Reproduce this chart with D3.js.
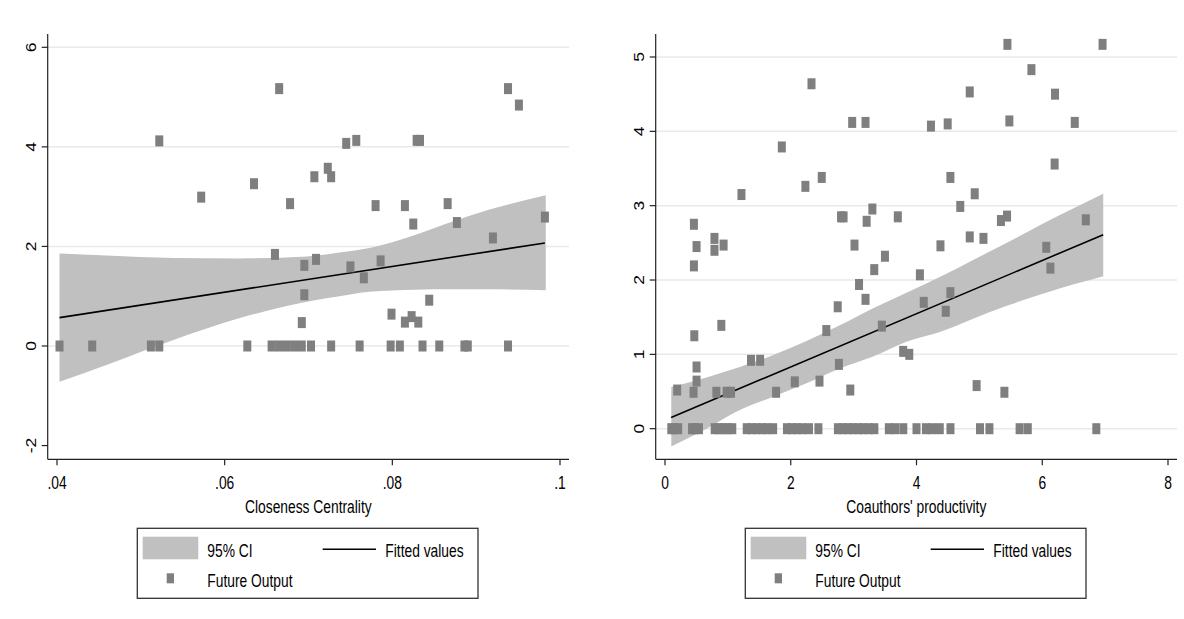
<!DOCTYPE html>
<html>
<head>
<meta charset="utf-8">
<script src="https://cdn.jsdelivr.net/npm/d3@7"></script>
<style>
  html, body { margin: 0; padding: 0; background: #fff; }
  svg { display: block; }
  text { font-family: "Liberation Sans", Arial, Helvetica, sans-serif; fill: #000; }
</style>
</head>
<body>
<svg id="chart" width="1184" height="619"></svg>
<script>
// ---------------- DATA ----------------
// Left panel: Closeness Centrality vs Future Output
const leftX = [0.0522,0.0572,0.0635,0.0665,0.0678,0.0707,0.0723,0.0727,0.0745,0.0757,0.0780,0.0815,0.0825,0.0829,0.0833,0.0866,0.0877,0.0920,0.0938,0.0951,0.0982,
               0.0660,0.0695,0.0709,0.0750,0.0766,0.0786,0.0695,0.0844,0.0799,0.0692,0.0815,0.0823,0.0831,
               0.0403,0.0442,0.0512,0.0522,0.0627,0.0656,0.0665,0.0674,0.0683,0.0692,0.0703,0.0727,0.0761,0.0798,0.0809,0.0836,0.0856,0.0886,0.0890,0.0938];
const leftY = [4.12,2.99,3.26,5.17,2.86,3.40,3.57,3.40,4.07,4.13,2.82,2.82,2.45,4.13,4.13,2.86,2.48,2.17,5.17,4.84,2.59,
               1.84,1.62,1.74,1.59,1.37,1.71,1.03,0.92,0.64,0.47,0.48,0.59,0.48,
               0,0,0,0,0,0,0,0,0,0,0,0,0,0,0,0,0,0,0,0];
const leftFitX = [0.0403, 0.0982];
const leftFitY = [0.57, 2.07];
const leftCiX  = [0.0403,0.0459,0.0539,0.0618,0.0698,0.0737,0.0773,0.0827,0.0872,0.0916,0.0983];
const leftCiHi = [1.86,1.82,1.77,1.76,1.80,1.88,1.97,2.23,2.50,2.74,3.03];
const leftCiLo = [-0.72,-0.38,0.12,0.56,0.89,1.00,1.09,1.13,1.14,1.14,1.12];
const leftXTicks = [0.04,0.06,0.08,0.1];
const leftXTickLabels = [".04",".06",".08",".1"];
const leftYTicks = [-2,0,2,4,6];
const leftYGrid = [0,2,4,6];

// Right panel: Coauthors' productivity vs Future Output
const rightX = [5.446,6.959,5.828,2.330,4.847,6.203,2.977,3.189,4.230,4.496,5.477,6.517,1.858,6.197,2.233,2.493,4.539,1.216,4.926,4.696,
                3.298,2.80,2.84,3.207,3.703,5.343,5.440,6.693,0.460,0.502,0.787,0.787,0.932,0.460,3.014,4.381,4.847,5.065,6.064,6.130,
                3.498,3.328,4.054,3.086,3.189,2.747,4.115,4.539,4.466,2.566,3.449,0.896,0.466,3.788,3.885,1.368,1.513,0.502,0.502,
                2.766,2.064,2.457,2.947,4.956,5.398,0.194,0.454,0.817,0.98,1.05,1.767,
                0.10,0.15,0.21,0.43,0.48,0.54,0.79,0.86,0.93,1.00,1.07,1.30,1.38,1.46,1.54,1.62,1.72,1.94,2.02,2.10,2.18,2.29,2.44,
                2.75,2.83,2.91,2.99,3.07,3.15,3.24,3.33,3.56,3.66,3.79,4.00,4.15,4.25,4.37,4.54,5.01,5.16,5.64,5.77,6.86];
const rightY = [5.17,5.17,4.83,4.64,4.53,4.50,4.12,4.12,4.07,4.10,4.14,4.12,3.79,3.56,3.26,3.38,3.38,3.15,3.16,2.99,
                2.955,2.85,2.85,2.79,2.85,2.80,2.86,2.81,2.75,2.45,2.56,2.40,2.47,2.19,2.47,2.46,2.58,2.56,2.44,2.16,
                2.32,2.14,2.07,1.94,1.74,1.64,1.70,1.83,1.58,1.32,1.38,1.39,1.25,1.04,1.00,0.92,0.92,0.83,0.64,
                0.865,0.63,0.64,0.52,0.58,0.49,0.52,0.49,0.49,0.49,0.49,0.49,
                0,0,0,0,0,0,0,0,0,0,0,0,0,0,0,0,0,0,0,0,0,0,0,
                0,0,0,0,0,0,0,0,0,0,0,0,0,0,0,0,0,0,0,0,0];
const rightFitX = [0.097, 6.97];
const rightFitY = [0.15, 2.61];
const rightCiX  = [0.10,0.66,1.19,1.72,2.25,2.78,3.31,3.84,4.37,4.90,5.46,6.06,6.97];
const rightCiHi = [0.56,0.69,0.83,0.99,1.18,1.39,1.62,1.83,2.04,2.27,2.51,2.78,3.16];
const rightCiLo = [-0.24,0.00,0.25,0.43,0.61,0.81,0.97,1.17,1.30,1.48,1.66,1.83,2.05];
const rightXTicks = [0,2,4,6,8];
const rightXTickLabels = ["0","2","4","6","8"];
const rightYTicks = [0,1,2,3,4,5];
const rightYGrid = [0,1,2,3,4,5];

const legendLabels = ["95% CI", "Fitted values", "Future Output"];

// ---------------- DRAWING ----------------
const svg = d3.select("#chart");
const SX = 0.79;           // horizontal condensation of the text
const FS = 17.5;           // font size
const COL_MARK = "#7f7f7f", COL_CI = "#c0c0c0", COL_GRID = "#e9e9e9", COL_AX = "#222";

function hText(g, str, x, y, anchor) {
  g.append("text")
    .attr("transform", `translate(${x},${y}) scale(${SX},1)`)
    .attr("text-anchor", anchor || "start")
    .attr("font-size", FS)
    .text(str);
}
function vText(g, str, x, y) {
  g.append("text")
    .attr("transform", `translate(${x},${y}) rotate(-90) scale(1,${SX})`)
    .attr("text-anchor", "middle")
    .attr("y", FS * 0.36)
    .attr("font-size", FS)
    .text(str);
}

function panel(cfg) {
  const g = svg.append("g");
  const x = d3.scaleLinear().domain(cfg.xDomain).range(cfg.xRange);
  const y = d3.scaleLinear().domain(cfg.yDomain).range(cfg.yRange);
  const axL = cfg.axisLeft, axR = cfg.axisRight, axT = 34, axB = 459.3;

  // gridlines
  g.append("g").selectAll("line").data(cfg.yGrid).join("line")
    .attr("x1", axL).attr("x2", axR)
    .attr("y1", d => y(d)).attr("y2", d => y(d))
    .attr("stroke", COL_GRID).attr("stroke-width", 1.5);

  // CI band
  const ci = cfg.ciX.map((d, i) => ({x: d, lo: cfg.ciLo[i], hi: cfg.ciHi[i]}));
  g.append("path").datum(ci)
    .attr("d", d3.area().curve(d3.curveMonotoneX).x(d => x(d.x)).y0(d => y(d.lo)).y1(d => y(d.hi)))
    .attr("fill", COL_CI);

  // fitted line
  const fit = cfg.fitX.map((d, i) => ({x: d, y: cfg.fitY[i]}));
  g.append("path").datum(fit)
    .attr("d", d3.line().x(d => x(d.x)).y(d => y(d.y)))
    .attr("fill", "none").attr("stroke", "#000").attr("stroke-width", 1.6);

  // markers
  const pts = cfg.px.map((d, i) => ({x: d, y: cfg.py[i]}));
  g.append("g").selectAll("rect").data(pts).join("rect")
    .attr("x", d => x(d.x) - 4).attr("y", d => y(d.y) - 5.5)
    .attr("width", 8).attr("height", 11)
    .attr("fill", COL_MARK);

  // axes lines
  g.append("line").attr("x1", axL).attr("x2", axL).attr("y1", axT).attr("y2", axB)
    .attr("stroke", COL_AX).attr("stroke-width", 1.2);
  g.append("line").attr("x1", axL).attr("x2", axR).attr("y1", axB).attr("y2", axB)
    .attr("stroke", COL_AX).attr("stroke-width", 1.2);

  // y ticks
  cfg.yTicks.forEach(t => {
    g.append("line").attr("x1", axL - 6).attr("x2", axL).attr("y1", y(t)).attr("y2", y(t))
      .attr("stroke", COL_AX).attr("stroke-width", 1.2);
    vText(g, String(t), axL - 16.2, y(t));
  });
  // x ticks
  cfg.xTicks.forEach((t, i) => {
    g.append("line").attr("x1", x(t)).attr("x2", x(t)).attr("y1", axB).attr("y2", axB + 6)
      .attr("stroke", COL_AX).attr("stroke-width", 1.2);
    hText(g, cfg.xTickLabels[i], x(t), 489, "middle");
  });
  // axis title
  hText(g, cfg.title, (axL + axR) / 2, 513, "middle");

  // legend
  const lx = cfg.legendX;
  g.append("rect").attr("x", lx).attr("y", 528.3).attr("width", 340.7).attr("height", 70)
    .attr("fill", "#fff").attr("stroke", "#333").attr("stroke-width", 1.3);
  g.append("rect").attr("x", lx + 5.4).attr("y", 536.7).attr("width", 55.6).attr("height", 22.6)
    .attr("fill", COL_CI);
  hText(g, legendLabels[0], lx + 70, 556.5);
  g.append("line").attr("x1", lx + 185.4).attr("x2", lx + 238.7).attr("y1", 549.3).attr("y2", 549.3)
    .attr("stroke", "#000").attr("stroke-width", 1.6);
  hText(g, legendLabels[1], lx + 248, 556.5);
  g.append("rect").attr("x", lx + 29.4).attr("y", 573.3).attr("width", 7.3).attr("height", 10)
    .attr("fill", COL_MARK);
  hText(g, legendLabels[2], lx + 70, 586.5);
}

panel({
  xDomain: [0.04, 0.1], xRange: [57, 560],
  yDomain: [0, 6], yRange: [346, 47.3],
  axisLeft: 47.7, axisRight: 569,
  yGrid: leftYGrid, yTicks: leftYTicks,
  xTicks: leftXTicks, xTickLabels: leftXTickLabels,
  ciX: leftCiX, ciLo: leftCiLo, ciHi: leftCiHi,
  fitX: leftFitX, fitY: leftFitY,
  px: leftX, py: leftY,
  title: "Closeness Centrality",
  legendX: 137.3
});

panel({
  xDomain: [0, 8], xRange: [665, 1168],
  yDomain: [0, 5], yRange: [428.7, 57],
  axisLeft: 655.7, axisRight: 1177,
  yGrid: rightYGrid, yTicks: rightYTicks,
  xTicks: rightXTicks, xTickLabels: rightXTickLabels,
  ciX: rightCiX, ciLo: rightCiLo, ciHi: rightCiHi,
  fitX: rightFitX, fitY: rightFitY,
  px: rightX, py: rightY,
  title: "Coauthors' productivity",
  legendX: 745.3
});
</script>
</body>
</html>
